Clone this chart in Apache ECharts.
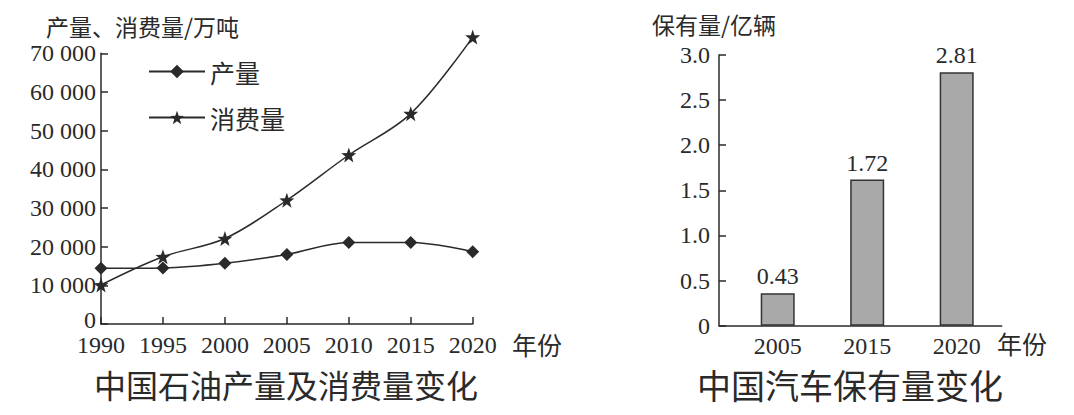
<!DOCTYPE html>
<html>
<head>
<meta charset="utf-8">
<script src="https://cdn.jsdelivr.net/npm/echarts@6/dist/echarts.min.js"></script>
<style>
html,body{margin:0;padding:0;background:#fff;}
#main{width:1074px;height:415px;}
</style>
</head>
<body>
<div id="main"></div>
<script>
// ---- data ----
const oilYears = ['1990','1995','2000','2005','2010','2015','2020'];
const oilProduction = [14400, 14500, 15700, 18000, 21100, 21100, 18700];
const oilConsumption = [10100, 17400, 22100, 32000, 43700, 54400, 74200];
const oilYTicks = [0, 10000, 20000, 30000, 40000, 50000, 60000, 70000];

const carYears = ['2005', '2015', '2020'];
const carBarHeights = [0.36, 1.62, 2.81];      // heights as drawn
const carBarLabels = ['0.43', '1.72', '2.81']; // printed labels
const carYTicks = [0, 0.5, 1.0, 1.5, 2.0, 2.5, 3.0];

const SERIF = "'Liberation Serif','DejaVu Serif',serif";
const CJK = "'Noto Sans CJK SC','Noto Sans',sans-serif";
const INK = '#2a2a2a';
const STAR = 'path://M0,-10L2.35,-3.24L9.51,-3.09L3.8,1.24L5.88,8.09L0,4L-5.88,8.09L-3.8,1.24L-9.51,-3.09L-2.35,-3.24Z';

const chart = echarts.init(document.getElementById('main'), null, {renderer: 'svg'});

function fmtThousands(v) {
  if (v === 0) return '{z|0}';
  const s = String(v);
  return s.slice(0, s.length - 3) + ' ' + s.slice(s.length - 3);
}

const option = {
  backgroundColor: '#fff',
  animation: false,
  textStyle: {fontFamily: SERIF, color: INK},
  title: [
    {text: '产量、消费量/万吨', left: 46, top: 14, padding: 0, textStyle: {fontFamily: CJK, fontSize: 23, fontWeight: 'normal', color: INK}},
    {text: '保有量/亿辆', left: 652, top: 12, padding: 0, textStyle: {fontFamily: CJK, fontSize: 23, fontWeight: 'normal', color: INK}},
    {text: '年份', left: 512, top: 331, padding: 0, textStyle: {fontFamily: CJK, fontSize: 25, fontWeight: 'normal', color: INK}},
    {text: '年份', left: 997, top: 330, padding: 0, textStyle: {fontFamily: CJK, fontSize: 25, fontWeight: 'normal', color: INK}},
    {text: '中国石油产量及消费量变化', left: 94, top: 368, padding: 0, textStyle: {fontFamily: CJK, fontSize: 32, fontWeight: 'normal', color: INK}},
    {text: '中国汽车保有量变化', left: 697, top: 367, padding: 0, textStyle: {fontFamily: CJK, fontSize: 34, fontWeight: 'normal', color: INK}}
  ],
  legend: {
    orient: 'vertical',
    left: 148,
    top: 59,
    padding: 0,
    itemWidth: 56,
    itemHeight: 17,
    itemGap: 21,
    data: ['产量', '消费量'],
    textStyle: {fontFamily: CJK, fontSize: 25, color: INK}
  },
  grid: [
    {left: 101, top: 53.3, width: 371.7, height: 270.7},
    {left: 719, top: 55, width: 282.7, height: 270.7}
  ],
  xAxis: [
    {
      gridIndex: 0, type: 'category', data: oilYears, boundaryGap: false,
      axisLine: {lineStyle: {color: INK, width: 1.5}},
      axisTick: {inside: true, length: 7, interval: 0, lineStyle: {color: INK, width: 1.5}},
      axisLabel: {fontFamily: SERIF, fontSize: 24, lineHeight: 22, color: INK, margin: 10, interval: 0},
      splitLine: {show: false}
    },
    {
      gridIndex: 1, type: 'value', min: -0.656, max: 2.503,
      axisLine: {show: true, onZero: false, lineStyle: {color: INK, width: 1.5}},
      axisTick: {show: false},
      axisLabel: {fontFamily: SERIF, fontSize: 24, color: INK, margin: 8,
        customValues: [0, 1, 2], formatter: v => carYears[Math.round(v)]},
      splitLine: {show: false}
    }
  ],
  yAxis: [
    {
      gridIndex: 0, type: 'value', min: oilYTicks[0], max: oilYTicks[oilYTicks.length - 1], interval: 10000,
      axisLine: {show: true, onZero: false, lineStyle: {color: INK, width: 1.5}},
      axisTick: {show: true, inside: true, length: 7, lineStyle: {color: INK, width: 1.5}},
      axisLabel: {fontFamily: SERIF, fontSize: 24, lineHeight: 18, color: INK, margin: 5, formatter: fmtThousands,
        rich: {z: {fontFamily: SERIF, fontSize: 24, lineHeight: 16, color: INK, padding: [0, 0, 8, 0]}}},
      splitLine: {show: false}
    },
    {
      gridIndex: 1, type: 'value', min: carYTicks[0], max: carYTicks[carYTicks.length - 1], interval: 0.5,
      axisLine: {show: true, onZero: false, lineStyle: {color: INK, width: 1.5}},
      axisTick: {show: true, inside: true, length: 7, lineStyle: {color: INK, width: 1.5}},
      axisLabel: {fontFamily: SERIF, fontSize: 24, color: INK, margin: 9,
        formatter: v => v === 0 ? '0' : v.toFixed(1)},
      splitLine: {show: false}
    }
  ],
  series: [
    {
      name: '产量', type: 'line', xAxisIndex: 0, yAxisIndex: 0,
      data: oilProduction, smooth: 0.35, clip: false,
      symbol: 'diamond', symbolSize: 13, showAllSymbol: true,
      lineStyle: {color: INK, width: 1.5},
      itemStyle: {color: INK, borderWidth: 0}
    },
    {
      name: '消费量', type: 'line', xAxisIndex: 0, yAxisIndex: 0,
      data: oilConsumption, smooth: 0.35, clip: false,
      symbol: STAR, symbolSize: 15, showAllSymbol: true,
      lineStyle: {color: INK, width: 1.5},
      itemStyle: {color: INK, borderWidth: 0}
    },
    {
      name: '保有量', type: 'bar', xAxisIndex: 1, yAxisIndex: 1,
      data: carBarHeights.map((h, i) => [i, h]),
      barWidth: 34,
      itemStyle: {color: '#a9a9a9', borderColor: '#333', borderWidth: 1.5},
      label: {show: true, position: 'top', distance: 5, fontFamily: SERIF, fontSize: 24, color: INK,
        formatter: p => carBarLabels[p.dataIndex]}
    }
  ]
};
chart.setOption(option);
</script>
</body>
</html>
